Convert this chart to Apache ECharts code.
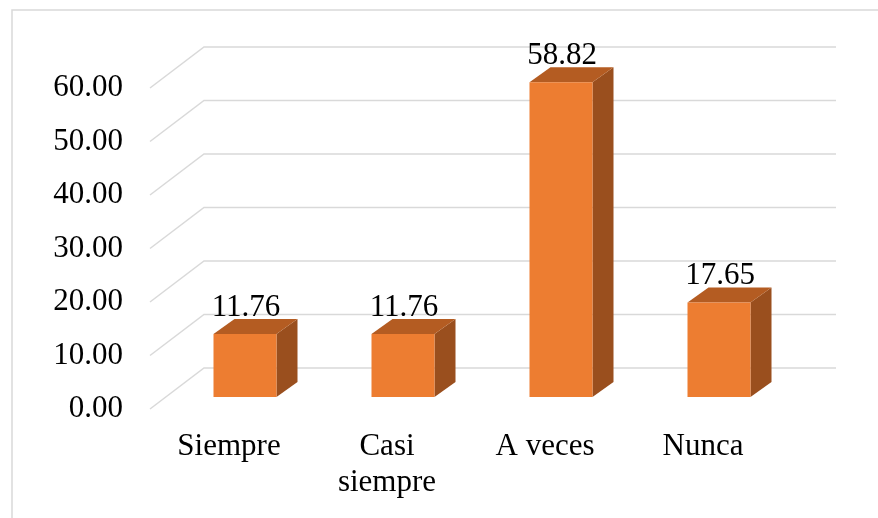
<!DOCTYPE html>
<html>
<head>
<meta charset="utf-8">
<script src="https://cdn.jsdelivr.net/npm/echarts@6/dist/echarts.min.js"></script>
<style>
  html, body { margin: 0; padding: 0; background: #fff; }
  #chart { width: 878px; height: 518px; }
</style>
</head>
<body>
<div id="chart"></div>
<script>
// datos del gráfico
const categories = ['Siempre', 'Casi\nsiempre', 'A veces', 'Nunca'];
const values = [11.76, 11.76, 58.82, 17.65];
const yTicks = [0, 10, 20, 30, 40, 50, 60];

const FONT = 'Liberation Serif';
// efecto 3D (px)
const wallDx = 54, wallDy = 41;
const shiftDx = 16, shiftDy = 12;
const depthDx = 21, depthDy = 15;
const barW = 63;

let chart = echarts.init(document.getElementById('chart'));
chart.setOption({
  animation: false,
  backgroundColor: '#fff',
  graphic: [{
    type: 'rect',
    shape: { x: 12, y: 10, width: 900, height: 540 },
    style: { fill: 'none', stroke: '#d9d9d9', lineWidth: 1.5 },
    silent: true
  }],
  grid: { left: 150, right: 96, top: 88, bottom: 109 },
  xAxis: {
    type: 'category',
    data: categories,
    axisLine: { show: false },
    axisTick: { show: false },
    axisLabel: {
      margin: 20,
      fontFamily: FONT,
      fontSize: 31,
      lineHeight: 36,
      color: '#000',
      interval: 0
    }
  },
  yAxis: {
    type: 'value',
    min: 0,
    max: 60,
    interval: 10,
    axisLine: { show: false },
    axisTick: { show: false },
    splitLine: { show: false },
    axisLabel: {
      margin: 27,
      fontFamily: FONT,
      fontSize: 31,
      color: '#000',
      formatter: v => v.toFixed(2)
    }
  },
  series: [
    {
      // lineas de la pared lateral y del fondo
      type: 'custom',
      z: 1,
      silent: true,
      data: yTicks.map(v => [0, v]),
      renderItem: function (params, api) {
        const cs = params.coordSys;
        const y = api.coord([0, api.value(1)])[1];
        return {
          type: 'polyline',
          shape: {
            points: [
              [cs.x, y],
              [cs.x + wallDx, y - wallDy],
              [cs.x + cs.width + wallDx, y - wallDy]
            ]
          },
          style: { stroke: '#d9d9d9', lineWidth: 1.5, fill: 'none' }
        };
      }
    },
    {
      type: 'custom',
      z: 2,
      data: values.map((v, i) => [i, v]),
      renderItem: function (params, api) {
        const i = api.value(0), v = api.value(1);
        const b = api.coord([i, 0]);
        const t = api.coord([i, v]);
        const x0 = b[0] + shiftDx - barW / 2, x1 = x0 + barW;
        const yb = b[1] - shiftDy, yt = t[1] - shiftDy;
        return {
          type: 'group',
          children: [
            {
              type: 'polygon',
              shape: { points: [[x1, yt], [x1 + depthDx, yt - depthDy], [x1 + depthDx, yb - depthDy], [x1, yb]] },
              style: { fill: '#9a4f1e' }
            },
            {
              type: 'polygon',
              shape: { points: [[x0, yt], [x0 + depthDx, yt - depthDy], [x1 + depthDx, yt - depthDy], [x1, yt]] },
              style: { fill: '#b45c22' }
            },
            {
              type: 'rect',
              shape: { x: x0, y: yt, width: barW, height: yb - yt },
              style: { fill: '#ed7d31' }
            },
            {
              type: 'text',
              style: {
                text: v.toFixed(2),
                x: (x0 + x1) / 2 + 1,
                y: yt - depthDy + 4,
                align: 'center',
                verticalAlign: 'bottom',
                font: '31px "' + FONT + '"',
                fill: '#000'
              }
            }
          ]
        };
      }
    }
  ]
});
</script>
</body>
</html>
